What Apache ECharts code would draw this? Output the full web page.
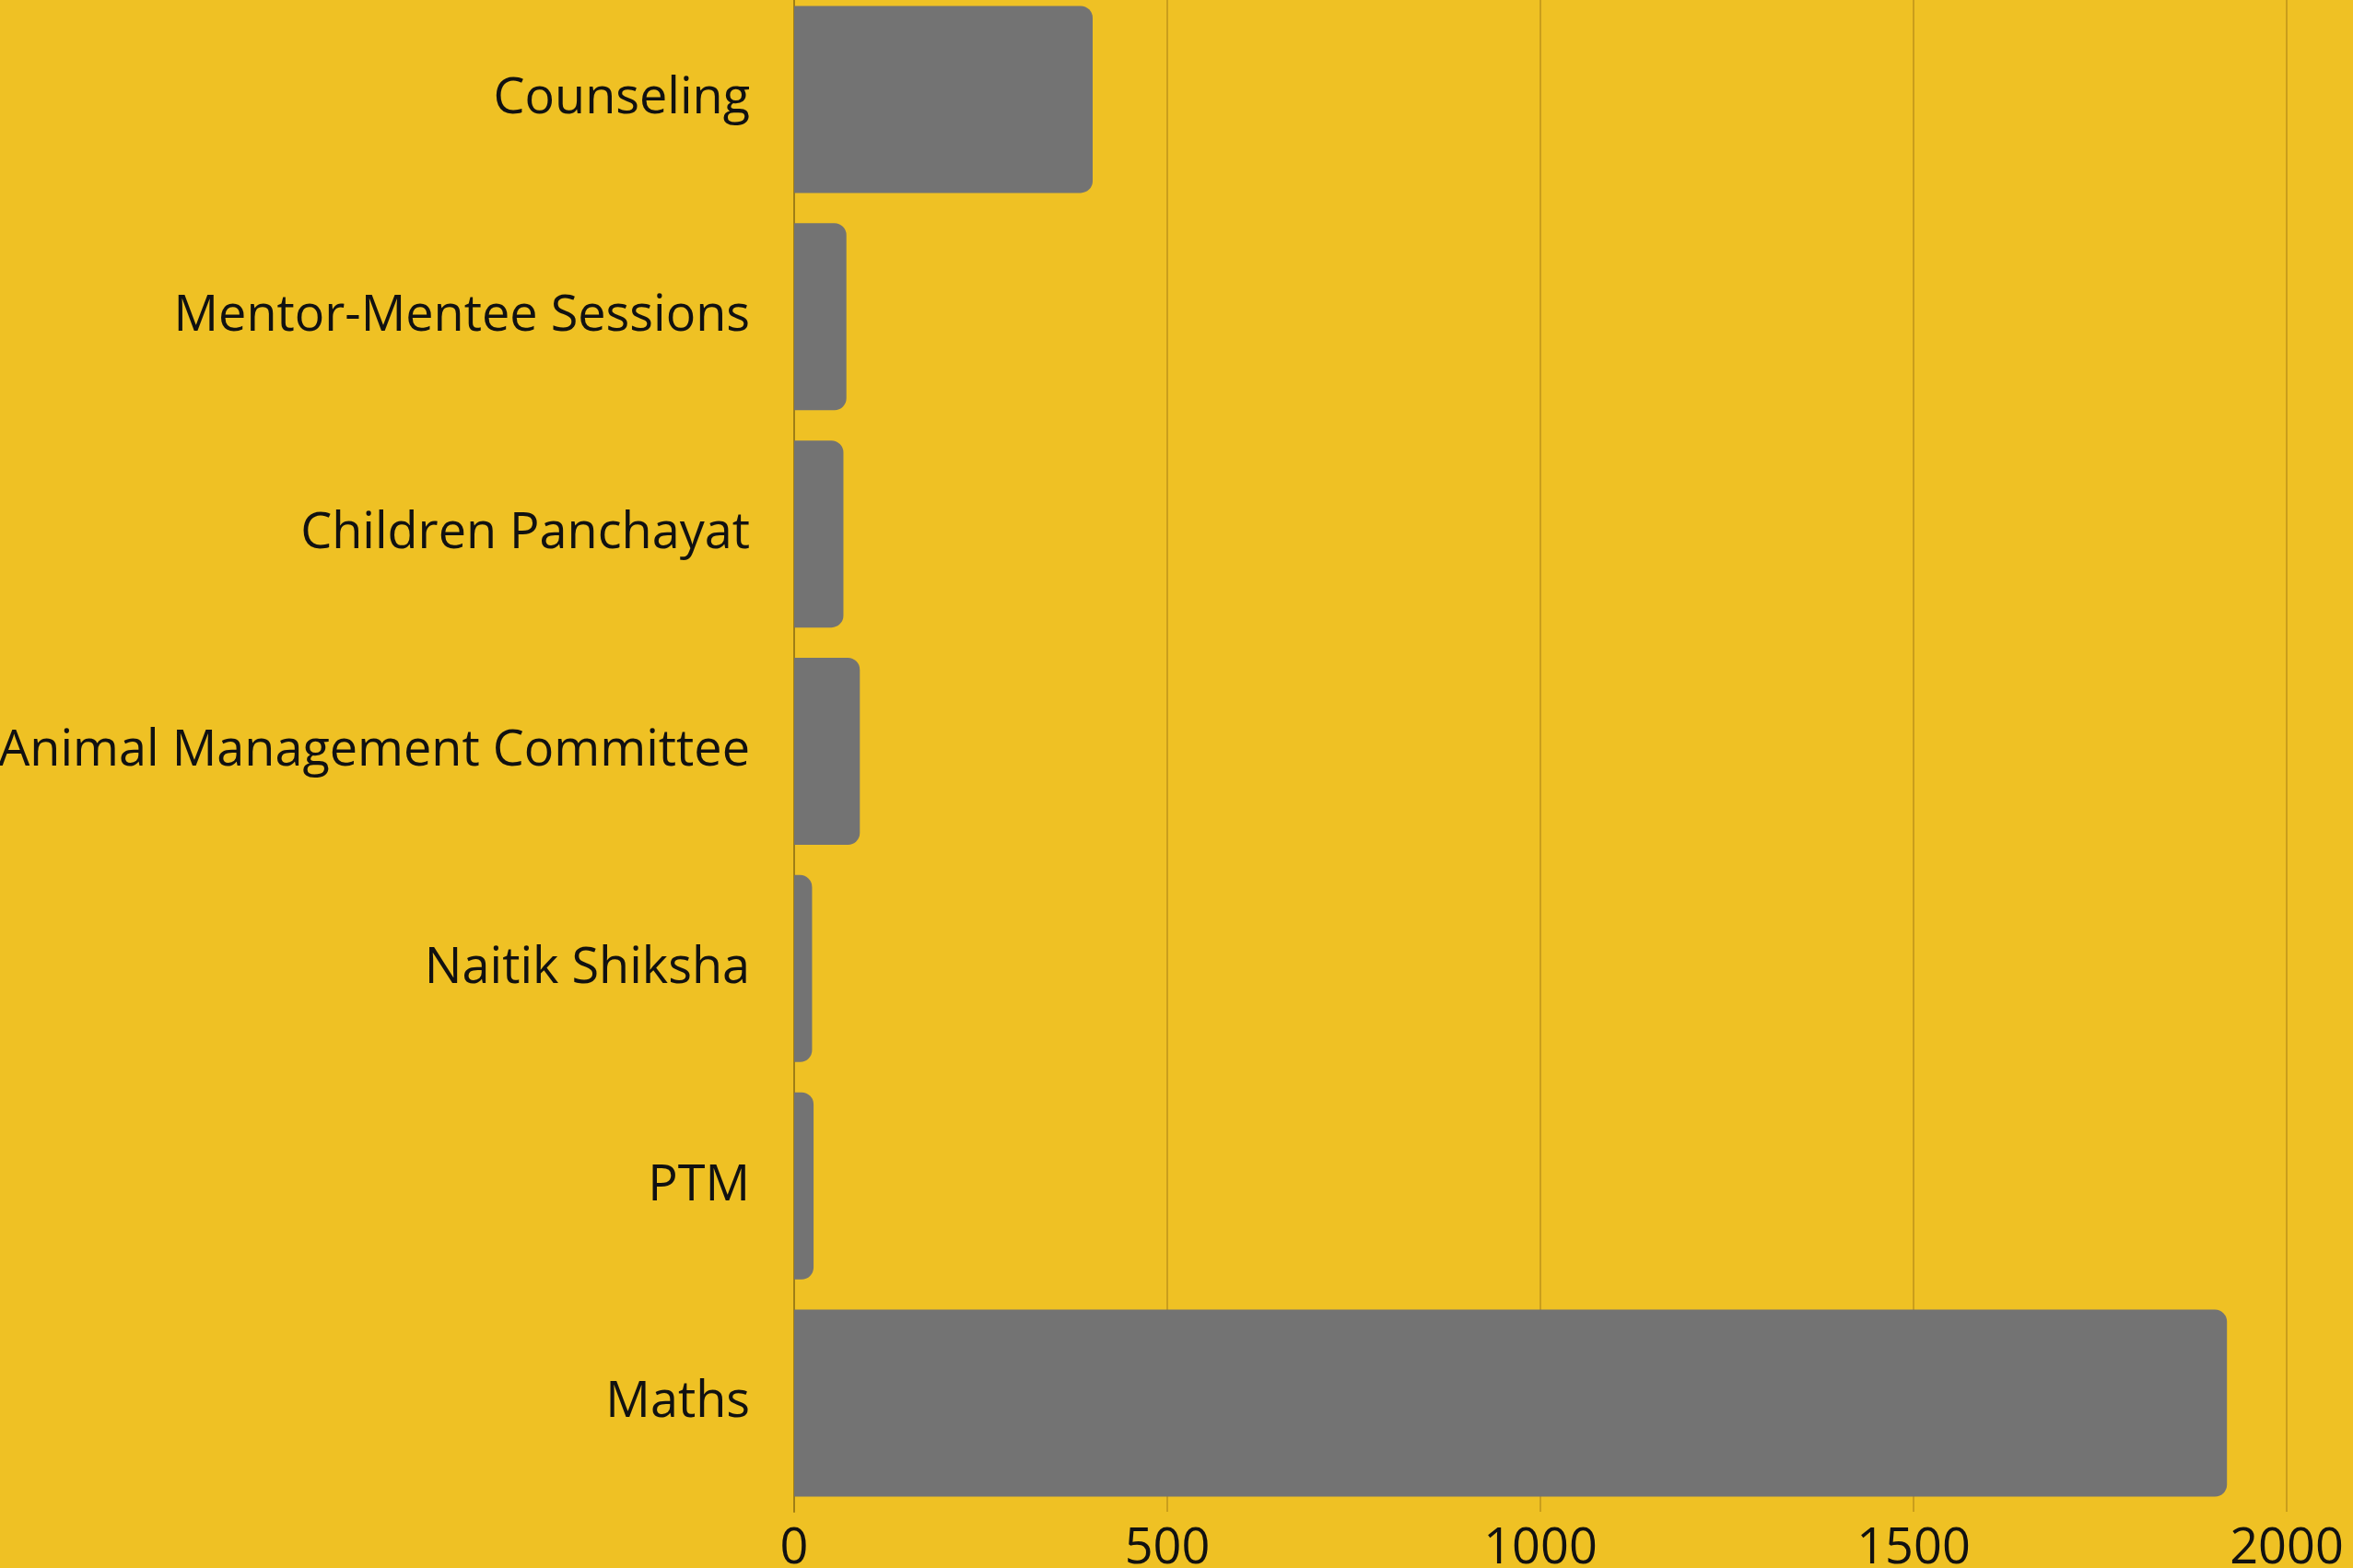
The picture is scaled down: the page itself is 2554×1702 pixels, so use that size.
<!DOCTYPE html>
<html>
<head>
<meta charset="utf-8">
<script src="https://cdn.jsdelivr.net/npm/echarts@6/dist/echarts.min.js"></script>
<style>
html,body{margin:0;padding:0;background:#EFC124;overflow:hidden;}
#c{width:2554px;height:1712px;margin-top:-10px;}
</style>
</head>
<body>
<div id="c"></div>
<script>
const categories = ["Counseling","Mentor-Mentee Sessions","Children Panchayat","Animal Management Committee","Naitik Shiksha","PTM","Maths"];
const values = [400, 70, 66, 88, 24, 26, 1920];
const xTicks = [0, 500, 1000, 1500, 2000];

const chart = echarts.init(document.getElementById('c'), null, {renderer:'canvas'});
const FONT = '"Open Sans", "Noto Sans", sans-serif';
chart.setOption({
  backgroundColor: '#EFC124',
  animation: false,
  grid: {left: 862, right: 72, top: 0, bottom: 61, containLabel: false, outerBoundsMode: 'none'},
  xAxis: {
    type: 'value', min: xTicks[0], max: xTicks[xTicks.length-1], interval: 500,
    axisLine: {show: false}, axisTick: {show: false},
    splitLine: {show: true, lineStyle: {color: '#CA9E1C', width: 2}},
    axisLabel: {color: '#111', fontSize: 54, fontFamily: FONT, margin: 14,
      formatter: v => String(v)}
  },
  yAxis: {
    type: 'category', data: categories, inverse: true,
    axisLine: {show: true, lineStyle: {color: '#A07E16', width: 2}},
    axisTick: {show: false},
    axisLabel: {color: '#111', fontSize: 54, fontFamily: FONT, margin: 48}
  },
  series: [{
    type: 'bar', data: values, barWidth: 203,
    itemStyle: {color: '#737373', borderRadius: [0, 13, 13, 0]}
  }]
});
</script>
</body>
</html>
